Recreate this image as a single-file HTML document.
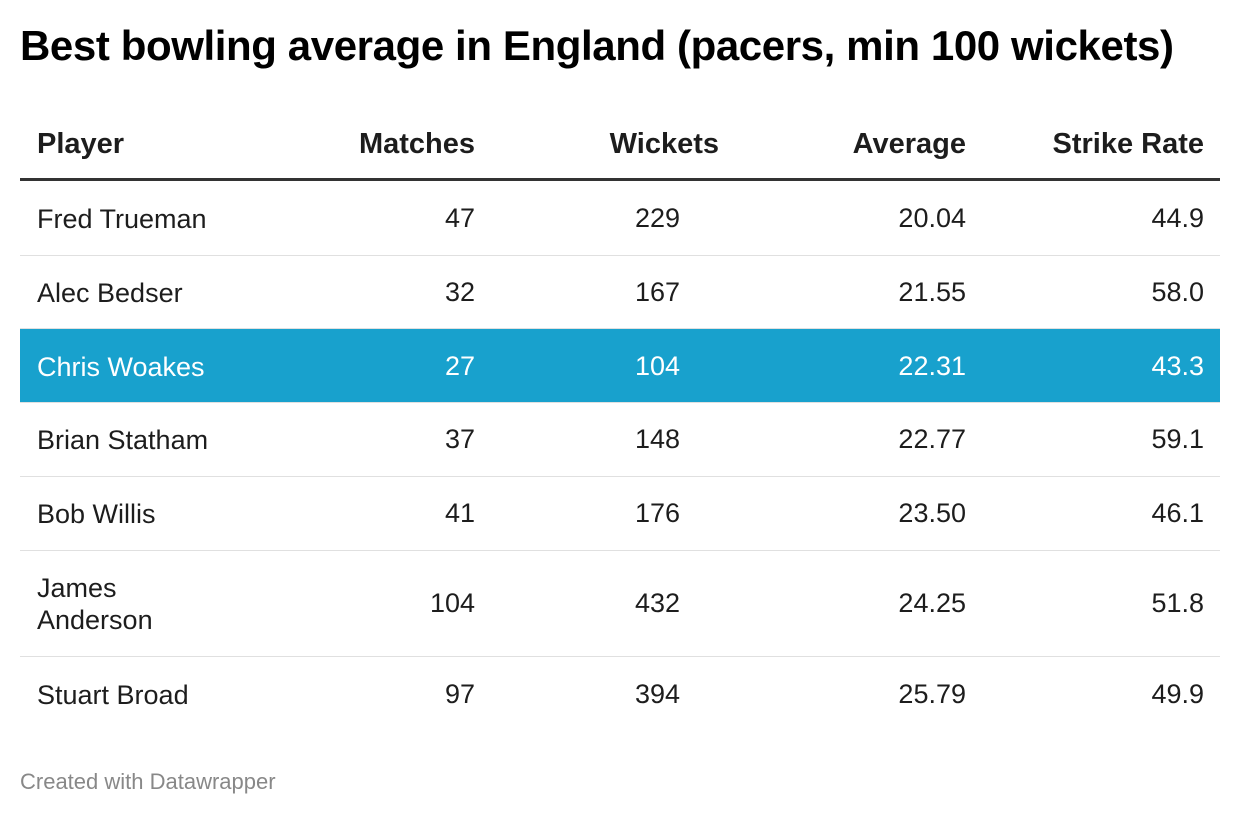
<!DOCTYPE html>
<html><head><meta charset="utf-8"><style>
body{margin:0;width:1240px;height:816px;background:#fff;font-family:"Liberation Sans",Arial,sans-serif;color:#1d1d1d;position:relative;overflow:hidden}
.t{position:absolute;left:20px;top:22px;font-size:42px;font-weight:bold;color:#000;letter-spacing:-0.4px}
.r{position:absolute;left:20px;width:1200px;border-bottom:1px solid #e0e0e0}
.c{position:absolute;font-size:27px;white-space:nowrap}
.h .c{font-weight:bold;font-size:29px}
.hl{background:#18a1cd;color:#fff}
.f{position:absolute;left:20px;top:769px;font-size:22px;color:#888}
</style></head><body>
<div class="t">Best bowling average in England (pacers, min 100 wickets)</div>
<div class="r h" style="top:110px;height:68px;border-bottom:3px solid #333">
<div class="c" style="left:17px;top:18px">Player</div>
<div class="c" style="right:745px;top:18px">Matches</div>
<div class="c" style="right:501px;top:18px">Wickets</div>
<div class="c" style="right:254px;top:18px">Average</div>
<div class="c" style="right:16px;top:18px">Strike Rate</div>
</div>
<div id="rows"></div>
<script>
var d=[["Fred Trueman","47","229","20.04","44.9",181,74],["Alec Bedser","32","167","21.55","58.0",255,73],["Chris Woakes","27","104","22.31","43.3",329,73],["Brian Statham","37","148","22.77","59.1",402,74],["Bob Willis","41","176","23.50","46.1",476,74],["James<br>Anderson","104","432","24.25","51.8",550,106],["Stuart Broad","97","394","25.79","49.9",656,75]];
var h="";d.forEach(function(x,i){var top=(x[6]-30)/2;var pt=x[6]>100?22:top;
h+='<div class="r'+(i==2?' hl':'')+'" style="top:'+x[5]+'px;height:'+x[6]+'px;'+(i==6?'border-bottom:none':'')+'">'+
'<div class="c" style="left:17px;top:'+pt+'px;line-height:32px">'+x[0]+'</div>'+
'<div class="c" style="right:745px;top:'+top+'px;line-height:30px">'+x[1]+'</div>'+
'<div class="c" style="right:540px;top:'+top+'px;line-height:30px">'+x[2]+'</div>'+
'<div class="c" style="right:254px;top:'+top+'px;line-height:30px">'+x[3]+'</div>'+
'<div class="c" style="right:16px;top:'+top+'px;line-height:30px">'+x[4]+'</div></div>';});
document.getElementById("rows").innerHTML=h;
</script>
<div class="f">Created with Datawrapper</div>
</body></html>
